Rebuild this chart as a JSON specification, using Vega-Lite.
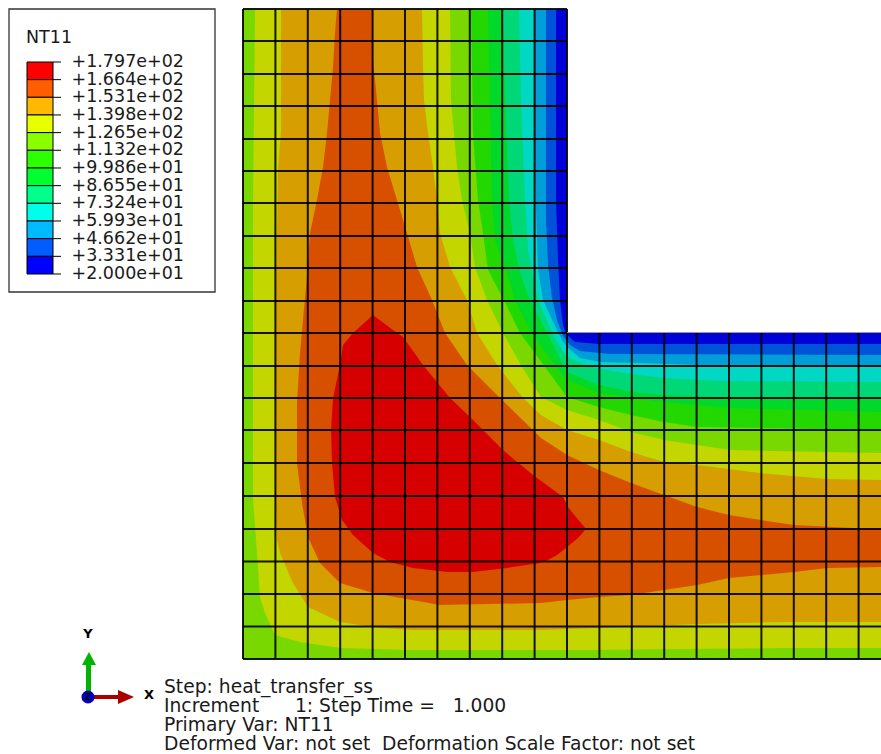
{"$schema":"https://vega.github.io/schema/vega-lite/v6.json","width":881,"height":754,"padding":0,"autosize":{"type":"fit","contains":"padding"},"background":"white","config":{"view":{"stroke":null}},
"datasets":{
"bands":[
{"level":"20.00","x":0,"y":650},{"level":"20.00","x":324,"y":650},{"level":"20.00","x":324,"y":326},{"level":"20.00","x":638,"y":326},{"level":"20.00","x":638,"y":0},{"level":"20.00","x":0,"y":0},
{"level":"33.31","x":0,"y":650},{"level":"33.31","x":313,"y":650},{"level":"33.31","x":313,"y":459},{"level":"33.31","x":315,"y":399},{"level":"33.31","x":317,"y":359},{"level":"33.31","x":320,"y":334},{"level":"33.31","x":323,"y":325},{"level":"33.31","x":332,"y":317},{"level":"33.31","x":357,"y":315},{"level":"33.31","x":638,"y":315},{"level":"33.31","x":638,"y":0},{"level":"33.31","x":0,"y":0},
{"level":"46.62","x":0,"y":650},{"level":"46.62","x":303,"y":650},{"level":"46.62","x":303,"y":439},{"level":"46.62","x":305,"y":394},{"level":"46.62","x":309,"y":361},{"level":"46.62","x":314,"y":339},{"level":"46.62","x":320,"y":323},{"level":"46.62","x":327,"y":314},{"level":"46.62","x":337,"y":308},{"level":"46.62","x":367,"y":305},{"level":"46.62","x":638,"y":304},{"level":"46.62","x":638,"y":0},{"level":"46.62","x":0,"y":0},
{"level":"59.93","x":0,"y":650},{"level":"59.93","x":292,"y":650},{"level":"59.93","x":292,"y":509},{"level":"59.93","x":293,"y":449},{"level":"59.93","x":295,"y":389},{"level":"59.93","x":300,"y":359},{"level":"59.93","x":310,"y":337},{"level":"59.93","x":319,"y":319},{"level":"59.93","x":324,"y":312},{"level":"59.93","x":337,"y":301},{"level":"59.93","x":357,"y":297},{"level":"59.93","x":397,"y":296},{"level":"59.93","x":457,"y":294},{"level":"59.93","x":638,"y":293},{"level":"59.93","x":638,"y":0},{"level":"59.93","x":0,"y":0},
{"level":"73.24","x":0,"y":650},{"level":"73.24","x":276,"y":650},{"level":"73.24","x":278,"y":559},{"level":"73.24","x":282,"y":459},{"level":"73.24","x":285,"y":409},{"level":"73.24","x":290,"y":384},{"level":"73.24","x":295,"y":359},{"level":"73.24","x":305,"y":336},{"level":"73.24","x":313,"y":319},{"level":"73.24","x":324,"y":302},{"level":"73.24","x":342,"y":294},{"level":"73.24","x":358,"y":290},{"level":"73.24","x":387,"y":285},{"level":"73.24","x":421,"y":281},{"level":"73.24","x":477,"y":278},{"level":"73.24","x":638,"y":277},{"level":"73.24","x":638,"y":0},{"level":"73.24","x":0,"y":0},
{"level":"86.55","x":0,"y":650},{"level":"86.55","x":260,"y":650},{"level":"86.55","x":262,"y":559},{"level":"86.55","x":266,"y":459},{"level":"86.55","x":270,"y":419},{"level":"86.55","x":277,"y":386},{"level":"86.55","x":287,"y":359},{"level":"86.55","x":304,"y":326},{"level":"86.55","x":324,"y":287},{"level":"86.55","x":356,"y":274},{"level":"86.55","x":389,"y":267},{"level":"86.55","x":421,"y":264},{"level":"86.55","x":477,"y":262},{"level":"86.55","x":638,"y":261},{"level":"86.55","x":638,"y":0},{"level":"86.55","x":0,"y":0},
{"level":"99.86","x":0,"y":650},{"level":"99.86","x":245,"y":650},{"level":"99.86","x":247,"y":559},{"level":"99.86","x":249,"y":459},{"level":"99.86","x":252,"y":419},{"level":"99.86","x":264,"y":386},{"level":"99.86","x":272,"y":359},{"level":"99.86","x":289,"y":326},{"level":"99.86","x":317,"y":287},{"level":"99.86","x":324,"y":279},{"level":"99.86","x":356,"y":266},{"level":"99.86","x":389,"y":261},{"level":"99.86","x":421,"y":257},{"level":"99.86","x":487,"y":251},{"level":"99.86","x":638,"y":247},{"level":"99.86","x":638,"y":0},{"level":"99.86","x":0,"y":0},
{"level":"113.2","x":0,"y":650},{"level":"113.2","x":228,"y":650},{"level":"113.2","x":230,"y":526},{"level":"113.2","x":235,"y":459},{"level":"113.2","x":240,"y":426},{"level":"113.2","x":245,"y":389},{"level":"113.2","x":261,"y":359},{"level":"113.2","x":277,"y":326},{"level":"113.2","x":302,"y":292},{"level":"113.2","x":324,"y":262},{"level":"113.2","x":356,"y":252},{"level":"113.2","x":388,"y":244},{"level":"113.2","x":421,"y":237},{"level":"113.2","x":454,"y":232},{"level":"113.2","x":638,"y":229},{"level":"113.2","x":638,"y":0},{"level":"113.2","x":0,"y":0},
{"level":"126.5","x":12,"y":650},{"level":"126.5","x":207,"y":650},{"level":"126.5","x":208,"y":559},{"level":"126.5","x":214,"y":492},{"level":"126.5","x":219,"y":459},{"level":"126.5","x":227,"y":426},{"level":"126.5","x":232,"y":392},{"level":"126.5","x":244,"y":359},{"level":"126.5","x":260,"y":326},{"level":"126.5","x":279,"y":292},{"level":"126.5","x":298,"y":262},{"level":"126.5","x":324,"y":249},{"level":"126.5","x":356,"y":239},{"level":"126.5","x":388,"y":227},{"level":"126.5","x":421,"y":219},{"level":"126.5","x":454,"y":214},{"level":"126.5","x":487,"y":209},{"level":"126.5","x":638,"y":206},{"level":"126.5","x":638,"y":11},{"level":"126.5","x":546,"y":11},{"level":"126.5","x":337,"y":9},{"level":"126.5","x":164,"y":9},{"level":"126.5","x":97,"y":11},{"level":"126.5","x":57,"y":17},{"level":"126.5","x":32,"y":24},{"level":"126.5","x":22,"y":46},{"level":"126.5","x":17,"y":62},{"level":"126.5","x":14,"y":106},{"level":"126.5","x":10,"y":159},{"level":"126.5","x":10,"y":459},
{"level":"139.8","x":38,"y":650},{"level":"139.8","x":179,"y":650},{"level":"139.8","x":180,"y":592},{"level":"139.8","x":181,"y":559},{"level":"139.8","x":185,"y":526},{"level":"139.8","x":190,"y":492},{"level":"139.8","x":194,"y":459},{"level":"139.8","x":197,"y":426},{"level":"139.8","x":207,"y":392},{"level":"139.8","x":224,"y":359},{"level":"139.8","x":234,"y":326},{"level":"139.8","x":254,"y":294},{"level":"139.8","x":280,"y":261},{"level":"139.8","x":298,"y":244},{"level":"139.8","x":324,"y":229},{"level":"139.8","x":356,"y":219},{"level":"139.8","x":388,"y":207},{"level":"139.8","x":421,"y":197},{"level":"139.8","x":454,"y":194},{"level":"139.8","x":517,"y":186},{"level":"139.8","x":584,"y":180},{"level":"139.8","x":638,"y":179},{"level":"139.8","x":638,"y":37},{"level":"139.8","x":546,"y":37},{"level":"139.8","x":454,"y":35},{"level":"139.8","x":357,"y":31},{"level":"139.8","x":298,"y":29},{"level":"139.8","x":170,"y":29},{"level":"139.8","x":137,"y":31},{"level":"139.8","x":97,"y":37},{"level":"139.8","x":65,"y":52},{"level":"139.8","x":50,"y":76},{"level":"139.8","x":37,"y":106},{"level":"139.8","x":34,"y":119},{"level":"139.8","x":32,"y":159},{"level":"139.8","x":32,"y":300},{"level":"139.8","x":33,"y":359},{"level":"139.8","x":35,"y":489},{"level":"139.8","x":38,"y":529},
{"level":"153.1","x":94,"y":650},{"level":"153.1","x":130,"y":650},{"level":"153.1","x":130,"y":599},{"level":"153.1","x":134,"y":559},{"level":"153.1","x":137,"y":526},{"level":"153.1","x":144,"y":492},{"level":"153.1","x":154,"y":459},{"level":"153.1","x":164,"y":426},{"level":"153.1","x":174,"y":392},{"level":"153.1","x":189,"y":359},{"level":"153.1","x":202,"y":326},{"level":"153.1","x":224,"y":294},{"level":"153.1","x":257,"y":261},{"level":"153.1","x":298,"y":221},{"level":"153.1","x":324,"y":204},{"level":"153.1","x":356,"y":189},{"level":"153.1","x":388,"y":176},{"level":"153.1","x":421,"y":164},{"level":"153.1","x":454,"y":152},{"level":"153.1","x":486,"y":144},{"level":"153.1","x":518,"y":139},{"level":"153.1","x":551,"y":134},{"level":"153.1","x":610,"y":131},{"level":"153.1","x":638,"y":131},{"level":"153.1","x":638,"y":92},{"level":"153.1","x":584,"y":91},{"level":"153.1","x":551,"y":87},{"level":"153.1","x":518,"y":84},{"level":"153.1","x":486,"y":81},{"level":"153.1","x":454,"y":74},{"level":"153.1","x":421,"y":69},{"level":"153.1","x":388,"y":64},{"level":"153.1","x":356,"y":62},{"level":"153.1","x":324,"y":59},{"level":"153.1","x":298,"y":56},{"level":"153.1","x":197,"y":54},{"level":"153.1","x":130,"y":66},{"level":"153.1","x":97,"y":76},{"level":"153.1","x":77,"y":96},{"level":"153.1","x":65,"y":122},{"level":"153.1","x":59,"y":156},{"level":"153.1","x":54,"y":196},{"level":"153.1","x":54,"y":256},{"level":"153.1","x":57,"y":306},{"level":"153.1","x":60,"y":339},{"level":"153.1","x":64,"y":382},{"level":"153.1","x":67,"y":426},{"level":"153.1","x":74,"y":459},{"level":"153.1","x":80,"y":492},{"level":"153.1","x":84,"y":526},{"level":"153.1","x":87,"y":559},{"level":"153.1","x":90,"y":592},{"level":"153.1","x":92,"y":626},
{"level":"166.4","x":130,"y":344},{"level":"166.4","x":150,"y":329},{"level":"166.4","x":160,"y":322},{"level":"166.4","x":180,"y":294},{"level":"166.4","x":207,"y":261},{"level":"166.4","x":227,"y":242},{"level":"166.4","x":260,"y":209},{"level":"166.4","x":290,"y":184},{"level":"166.4","x":320,"y":162},{"level":"166.4","x":325,"y":152},{"level":"166.4","x":333,"y":142},{"level":"166.4","x":343,"y":130},{"level":"166.4","x":335,"y":121},{"level":"166.4","x":323,"y":111},{"level":"166.4","x":314,"y":104},{"level":"166.4","x":305,"y":99},{"level":"166.4","x":297,"y":96},{"level":"166.4","x":264,"y":91},{"level":"166.4","x":230,"y":87},{"level":"166.4","x":204,"y":87},{"level":"166.4","x":170,"y":91},{"level":"166.4","x":147,"y":97},{"level":"166.4","x":130,"y":106},{"level":"166.4","x":110,"y":124},{"level":"166.4","x":99,"y":139},{"level":"166.4","x":92,"y":162},{"level":"166.4","x":89,"y":196},{"level":"166.4","x":88,"y":229},{"level":"166.4","x":90,"y":261},{"level":"166.4","x":97,"y":294},{"level":"166.4","x":100,"y":314},{"level":"166.4","x":110,"y":326}
],
"mesh":[
{"x1":0,"y1":0,"x2":0,"y2":650},{"x1":32.4,"y1":0,"x2":32.4,"y2":650},{"x1":64.8,"y1":0,"x2":64.8,"y2":650},{"x1":97.2,"y1":0,"x2":97.2,"y2":650},{"x1":129.6,"y1":0,"x2":129.6,"y2":650},{"x1":162,"y1":0,"x2":162,"y2":650},{"x1":194.4,"y1":0,"x2":194.4,"y2":650},{"x1":226.8,"y1":0,"x2":226.8,"y2":650},{"x1":259.2,"y1":0,"x2":259.2,"y2":650},{"x1":291.6,"y1":0,"x2":291.6,"y2":650},{"x1":324,"y1":0,"x2":324,"y2":650},
{"x1":356.4,"y1":0,"x2":356.4,"y2":326},{"x1":388.8,"y1":0,"x2":388.8,"y2":326},{"x1":421.2,"y1":0,"x2":421.2,"y2":326},{"x1":453.6,"y1":0,"x2":453.6,"y2":326},{"x1":486,"y1":0,"x2":486,"y2":326},{"x1":518.4,"y1":0,"x2":518.4,"y2":326},{"x1":550.8,"y1":0,"x2":550.8,"y2":326},{"x1":583.2,"y1":0,"x2":583.2,"y2":326},{"x1":615.6,"y1":0,"x2":615.6,"y2":326},
{"x1":0,"y1":0,"x2":638,"y2":0},{"x1":0,"y1":32.5,"x2":638,"y2":32.5},{"x1":0,"y1":65,"x2":638,"y2":65},{"x1":0,"y1":97.5,"x2":638,"y2":97.5},{"x1":0,"y1":130,"x2":638,"y2":130},{"x1":0,"y1":163,"x2":638,"y2":163},{"x1":0,"y1":196,"x2":638,"y2":196},{"x1":0,"y1":229,"x2":638,"y2":229},{"x1":0,"y1":261,"x2":638,"y2":261},{"x1":0,"y1":293,"x2":638,"y2":293},{"x1":0,"y1":326,"x2":324,"y2":326},
{"x1":0,"y1":358,"x2":324,"y2":358},{"x1":0,"y1":391,"x2":324,"y2":391},{"x1":0,"y1":423,"x2":324,"y2":423},{"x1":0,"y1":456,"x2":324,"y2":456},{"x1":0,"y1":488,"x2":324,"y2":488},{"x1":0,"y1":520,"x2":324,"y2":520},{"x1":0,"y1":553,"x2":324,"y2":553},{"x1":0,"y1":585,"x2":324,"y2":585},{"x1":0,"y1":618,"x2":324,"y2":618},{"x1":0,"y1":650,"x2":324,"y2":650}
],
"edge":[{"x1":324,"y1":326.5,"x2":638,"y2":326.5}],
"legendBlocks":[
{"level":"166.4","lower":166.4,"upper":179.7},{"level":"153.1","lower":153.1,"upper":166.4},{"level":"139.8","lower":139.8,"upper":153.1},{"level":"126.5","lower":126.5,"upper":139.8},{"level":"113.2","lower":113.2,"upper":126.5},{"level":"99.86","lower":99.86,"upper":113.2},{"level":"86.55","lower":86.55,"upper":99.86},{"level":"73.24","lower":73.24,"upper":86.55},{"level":"59.93","lower":59.93,"upper":73.24},{"level":"46.62","lower":46.62,"upper":59.93},{"level":"33.31","lower":33.31,"upper":46.62},{"level":"20.00","lower":20,"upper":33.31}
],
"legendTicks":[
{"value":179.7,"label":"+1.797e+02"},{"value":166.4,"label":"+1.664e+02"},{"value":153.1,"label":"+1.531e+02"},{"value":139.8,"label":"+1.398e+02"},{"value":126.5,"label":"+1.265e+02"},{"value":113.2,"label":"+1.132e+02"},{"value":99.86,"label":"+9.986e+01"},{"value":86.55,"label":"+8.655e+01"},{"value":73.24,"label":"+7.324e+01"},{"value":59.93,"label":"+5.993e+01"},{"value":46.62,"label":"+4.662e+01"},{"value":33.31,"label":"+3.331e+01"},{"value":20,"label":"+2.000e+01"}
],
"info":[
{"line":1,"text":"Step: heat_transfer_ss"},{"line":2,"text":"Increment\u00a0\u00a0\u00a0\u00a0\u00a0\u00a01: Step Time =\u00a0\u00a0\u00a01.000"},{"line":3,"text":"Primary Var: NT11"},{"line":4,"text":"Deformed Var: not set\u00a0\u00a0Deformation Scale Factor: not set"}
],
"triad":[
{"part":"Y","x":-157,"y":-38},{"part":"Y","x":-157,"y":-6},{"part":"Y","x":-161,"y":-6},{"part":"Y","x":-154,"y":7},{"part":"Y","x":-147,"y":-6},{"part":"Y","x":-152,"y":-6},{"part":"Y","x":-152,"y":-38},
{"part":"X","x":-155,"y":-36},{"part":"X","x":-125,"y":-36},{"part":"X","x":-125,"y":-31},{"part":"X","x":-109,"y":-38},{"part":"X","x":-125,"y":-45},{"part":"X","x":-125,"y":-40},{"part":"X","x":-155,"y":-40}
],
"triadLabels":[{"t":"Y","x":-155,"y":25},{"t":"X","x":-94,"y":-36}],
"triadZ":[{"t":"Z","x":-155,"y":-38}]
},
"resolve":{"scale":{"y":"independent","fill":"independent"}},
"layer":[
{"data":{"name":"bands"},"mark":{"type":"line","strokeWidth":0,"stroke":null,"order":null},"encoding":{
"x":{"field":"x","type":"quantitative","axis":null,"scale":{"domain":[-243,638],"range":[0,881],"nice":false,"zero":false}},
"y":{"field":"y","type":"quantitative","axis":null,"scale":{"domain":[-95,659],"range":[754,0],"nice":false,"zero":false}},
"fill":{"field":"level","type":"nominal","legend":null,"scale":{"domain":["20.00","33.31","46.62","59.93","73.24","86.55","99.86","113.2","126.5","139.8","153.1","166.4"],"range":["#0000d8","#0052d8","#009ed8","#00d8c4","#00d878","#00d82a","#22d800","#78d800","#c4d600","#d69e00","#d65000","#d60000"]}}}},
{"data":{"name":"mesh"},"mark":{"type":"rule","color":"#000000","strokeWidth":2,"opacity":0.9},"encoding":{
"x":{"field":"x1","type":"quantitative","axis":null,"scale":{"domain":[-243,638],"range":[0,881],"nice":false,"zero":false}},
"y":{"field":"y1","type":"quantitative","axis":null,"scale":{"domain":[-95,659],"range":[754,0],"nice":false,"zero":false}},
"x2":{"field":"x2"},"y2":{"field":"y2"}}},
{"data":{"name":"edge"},"mark":{"type":"rule","color":"#999999","strokeWidth":1},"encoding":{
"x":{"field":"x1","type":"quantitative","axis":null,"scale":{"domain":[-243,638],"range":[0,881],"nice":false,"zero":false}},
"y":{"field":"y1","type":"quantitative","axis":null,"scale":{"domain":[-95,659],"range":[754,0],"nice":false,"zero":false}},
"x2":{"field":"x2"},"y2":{"field":"y2"}}},
{"data":{"values":[{"box":"legend"}]},"mark":{"type":"rect","fill":"white","stroke":"#333333","strokeWidth":1.3},"encoding":{"x":{"value":9},"x2":{"value":215},"y":{"value":9},"y2":{"value":292}}},
{"data":{"name":"legendBlocks"},"mark":{"type":"rect","stroke":"#000000","strokeWidth":1},"encoding":{
"x":{"value":27},"x2":{"value":53},
"y":{"field":"lower","type":"quantitative","axis":null,"scale":{"domain":[20,179.7],"range":[274,62],"nice":false,"zero":false}},
"y2":{"field":"upper"},
"fill":{"field":"level","type":"nominal","legend":null,"scale":{"domain":["20.00","33.31","46.62","59.93","73.24","86.55","99.86","113.2","126.5","139.8","153.1","166.4"],"range":["#0000ff","#005dff","#00b9ff","#00ffe8","#00ff8b","#00ff2e","#2eff00","#8bff00","#e8ff00","#ffb900","#ff5d00","#ff0000"]}}}},
{"data":{"name":"legendTicks"},"mark":{"type":"rule","color":"#000000","strokeWidth":1},"encoding":{
"x":{"value":53},"x2":{"value":61},
"y":{"field":"value","type":"quantitative","axis":null,"scale":{"domain":[20,179.7],"range":[274,62],"nice":false,"zero":false}}}},
{"data":{"name":"legendTicks"},"mark":{"type":"text","align":"left","baseline":"middle","font":"DejaVu Sans","fontSize":17.5,"color":"#1a1a1a"},"encoding":{
"x":{"value":71.5},
"y":{"field":"value","type":"quantitative","axis":null,"scale":{"domain":[20,179.7],"range":[274,62],"nice":false,"zero":false}},
"text":{"field":"label","type":"nominal"}}},
{"data":{"values":[{"title":"NT11"}]},"mark":{"type":"text","align":"left","baseline":"middle","font":"DejaVu Sans","fontSize":17.5,"color":"#1a1a1a"},"encoding":{"x":{"value":26},"y":{"value":38},"text":{"field":"title","type":"nominal"}}},
{"data":{"name":"info"},"mark":{"type":"text","align":"left","baseline":"middle","font":"DejaVu Sans","fontSize":18.7,"color":"#1a1a1a"},"encoding":{
"x":{"value":164},
"y":{"field":"line","type":"quantitative","axis":null,"scale":{"domain":[1,4],"range":[687,744],"nice":false,"zero":false}},
"text":{"field":"text","type":"nominal"}}},
{"data":{"name":"triad"},"mark":{"type":"line","strokeWidth":0,"stroke":null,"order":null},"encoding":{
"x":{"field":"x","type":"quantitative","axis":null,"scale":{"domain":[-243,638],"range":[0,881],"nice":false,"zero":false}},
"y":{"field":"y","type":"quantitative","axis":null,"scale":{"domain":[-95,659],"range":[754,0],"nice":false,"zero":false}},
"fill":{"field":"part","type":"nominal","legend":null,"scale":{"domain":["X","Y"],"range":["#aa0000","#00b400"]}}}},
{"data":{"values":[{"x":-155,"y":-38}]},"mark":{"type":"circle","color":"#0000c0","size":170,"opacity":1},"encoding":{
"x":{"field":"x","type":"quantitative","axis":null,"scale":{"domain":[-243,638],"range":[0,881],"nice":false,"zero":false}},
"y":{"field":"y","type":"quantitative","axis":null,"scale":{"domain":[-95,659],"range":[754,0],"nice":false,"zero":false}}}},
{"data":{"name":"triadLabels"},"mark":{"type":"text","align":"center","baseline":"middle","font":"DejaVu Sans","fontWeight":"bold","fontSize":13,"color":"#000000"},"encoding":{
"x":{"field":"x","type":"quantitative","axis":null,"scale":{"domain":[-243,638],"range":[0,881],"nice":false,"zero":false}},
"y":{"field":"y","type":"quantitative","axis":null,"scale":{"domain":[-95,659],"range":[754,0],"nice":false,"zero":false}},
"text":{"field":"t","type":"nominal"}}},
{"data":{"name":"triadZ"},"mark":{"type":"text","align":"center","baseline":"middle","font":"DejaVu Sans","fontWeight":"bold","fontSize":9,"color":"#000000"},"encoding":{
"x":{"field":"x","type":"quantitative","axis":null,"scale":{"domain":[-243,638],"range":[0,881],"nice":false,"zero":false}},
"y":{"field":"y","type":"quantitative","axis":null,"scale":{"domain":[-95,659],"range":[754,0],"nice":false,"zero":false}},
"text":{"field":"t","type":"nominal"}}}
]}
